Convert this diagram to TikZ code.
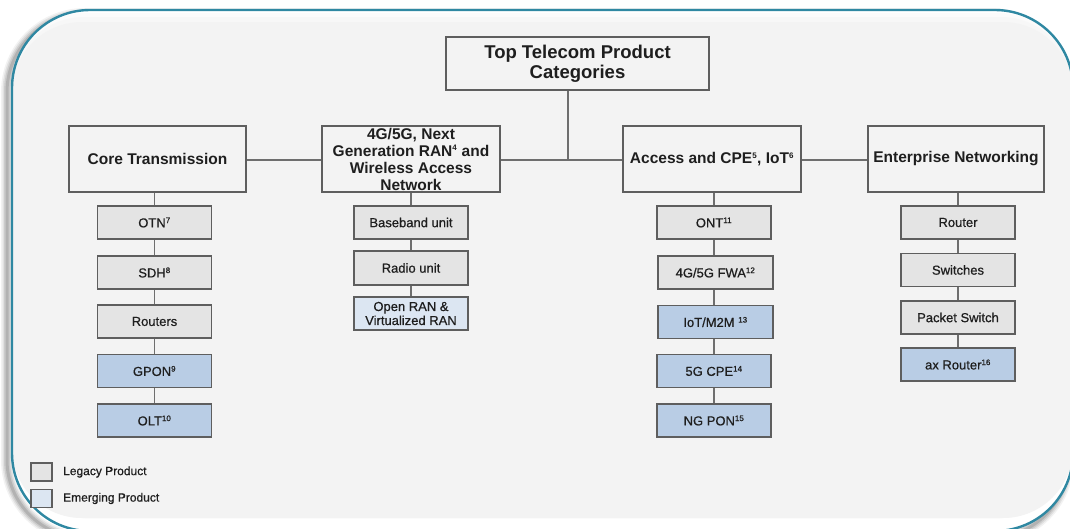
\documentclass[tikz,border=0pt]{standalone}
\usepackage{fontspec}
\setmainfont{Liberation Sans}
\newfontfamily\prodfont[FakeBold=0.6]{Liberation Sans}

\definecolor{panelgray}{HTML}{F3F3F3}
\definecolor{frameteal}{HTML}{2F88A2}
\definecolor{boxline}{HTML}{5E5E5E}
\definecolor{linkgray}{HTML}{6E6E6E}
\definecolor{legacyfill}{HTML}{E4E4E4}
\definecolor{emergefill}{HTML}{B9CDE5}
\definecolor{emergelight}{HTML}{DCE6F2}
\definecolor{inktext}{HTML}{1E1E1E}

\tikzset{
  catbox/.style={draw=boxline, line width=1.1pt, fill=panelgray, inner sep=0pt,
    align=center, text=inktext, font=\fontsize{15.5}{17}\selectfont\bfseries},
  prodbox/.style={draw=boxline, line width=1.3pt, inner sep=0pt, align=center,
    text=inktext, font=\prodfont\fontsize{13}{14}\selectfont,
    minimum width=114pt, minimum height=33pt},
  legacy/.style={prodbox, fill=legacyfill},
  emerging/.style={prodbox, fill=emergefill},
  emerginglight/.style={prodbox, fill=emergelight},
  keybox/.style={draw=boxline, line width=1.1pt, inner sep=0pt,
    minimum width=21pt, minimum height=18pt},
  keytext/.style={anchor=west, inner sep=0pt, text=inktext,
    font=\prodfont\fontsize{12}{13}\selectfont},
  link/.style={draw=linkgray, line width=1.1pt},
}
\newcommand{\fn}[1]{\textsuperscript{\fontsize{8}{8}\selectfont #1}}

\begin{document}
\begin{tikzpicture}[x=1pt, y=-1pt]
\useasboundingbox (0,0) rectangle (1070,528);
\fill[white] (0,0) rectangle (1070,528);

% panel: soft shadow, white rim with grey body, teal outline
\begin{scope}
  \clip (0,0) rectangle (1070,528);
  \foreach \w/\o in {12/0.05, 9/0.07, 6/0.09, 3/0.12}
    \draw[black, opacity=\o, line width=\w pt, rounded corners=78pt]
      (7,14) rectangle (1068,538);
  \fill[white, rounded corners=78pt] (12,10) rectangle (1073,531);
  \begin{scope}
    \clip[rounded corners=78pt] (12,10) rectangle (1073,531);
    \fill[panelgray, opacity=0.3, rounded corners=74pt] (12,13) rectangle (1073,518);
    \fill[panelgray, opacity=0.45, rounded corners=72pt] (12,17) rectangle (1073,518);
    \fill[panelgray, rounded corners=70pt] (12,22) rectangle (1073,518);
  \end{scope}
  \draw[frameteal, line width=2.4pt, rounded corners=78pt]
    (12,10) rectangle (1073,531);
\end{scope}

% root and category boxes
\node[catbox, minimum width=263pt, minimum height=53pt,
      font=\fontsize{18.5}{20}\selectfont\bfseries]
  (top) at (577.5,63.5) {Top Telecom Product\\Categories};
\node[catbox, minimum width=177pt, minimum height=66pt]
  (core) at (157.5,159) {Core Transmission};
\node[catbox, minimum width=178pt, minimum height=66pt]
  (ran) at (411,159) {4G/5G, Next\\Generation RAN\fn{4} and\\Wireless Access\\Network};
\node[catbox, minimum width=178pt, minimum height=66pt]
  (acc) at (712,159) {Access and CPE\fn{5}, IoT\fn{6}};
\node[catbox, minimum width=176pt, minimum height=66pt]
  (ent) at (956,159) {Enterprise Networking};

% core transmission products
\node[legacy]   (otn)  at (154.5,222.5) {OTN\fn{7}};
\node[legacy]   (sdh)  at (154.5,272.5) {SDH\fn{8}};
\node[legacy]   (rtrs) at (154.5,321.5) {Routers};
\node[emerging] (gpon) at (154.5,371)   {GPON\fn{9}};
\node[emerging] (olt)  at (154.5,420.5) {OLT\fn{10}};

% RAN products
\node[legacy]        (bbu)  at (411,222.5) {Baseband unit};
\node[legacy, minimum height=34pt] (rru) at (411,268) {Radio unit};
\node[emerginglight] (oran) at (411,313.5) {Open RAN \&\\Virtualized RAN};

% access products
\node[legacy]   (ont)  at (714,222.5)   {ONT\fn{11}};
\node[legacy, minimum width=115pt] (fwa) at (715.5,272.5) {4G/5G FWA\fn{12}};
\node[emerging, minimum width=115pt] (iot) at (715.5,322) {IoT/M2M \fn{13}};
\node[emerging] (cpe)  at (714,371)     {5G CPE\fn{14}};
\node[emerging] (ngp)  at (714,420.5)   {NG PON\fn{15}};

% enterprise products
\node[legacy]   (rtr)  at (958,222.5) {Router};
\node[legacy]   (sw)   at (958,270)   {Switches};
\node[legacy]   (psw)  at (958,317.5) {Packet Switch};
\node[emerging] (axr)  at (958,364.5) {ax Router\fn{16}};

% category bus and root drop
\coordinate (tj) at (568,160);
\draw[link] (core.east |- tj) -- (ran.west |- tj);
\draw[link] (ran.east |- tj) -- (acc.west |- tj);
\draw[link] (acc.east |- tj) -- (ent.west |- tj);
\draw[link] (top.south -| tj) -- (tj);

% column links
\draw[link] (core.south -| otn.north) -- (otn.north);
\draw[link] (otn) -- (sdh);
\draw[link] (sdh) -- (rtrs);
\draw[link] (rtrs) -- (gpon);
\draw[link] (gpon) -- (olt);

\draw[link] (ran.south -| bbu.north) -- (bbu.north);
\draw[link] (bbu) -- (rru);
\draw[link] (rru) -- (oran);

\draw[link] (acc.south -| ont.north) -- (ont.north);
\draw[link] (ont.south) -- (ont.south |- fwa.north);
\draw[link] (fwa.south -| ont.south) -- (iot.north -| ont.south);
\draw[link] (iot.south -| ont.south) -- (cpe.north);
\draw[link] (cpe) -- (ngp);

\draw[link] (ent.south -| rtr.north) -- (rtr.north);
\draw[link] (rtr) -- (sw);
\draw[link] (sw) -- (psw);
\draw[link] (psw) -- (axr);

% key
\node[keybox, fill=legacyfill]  (klg) at (41.5,472)   {};
\node[keybox, fill=emergelight] (kem) at (41.5,498.5) {};
\node[keytext] (klgt) at (63,472)   {Legacy Product};
\node[keytext] (kemt) at (63,498.5) {Emerging Product};
\end{tikzpicture}
\end{document}
